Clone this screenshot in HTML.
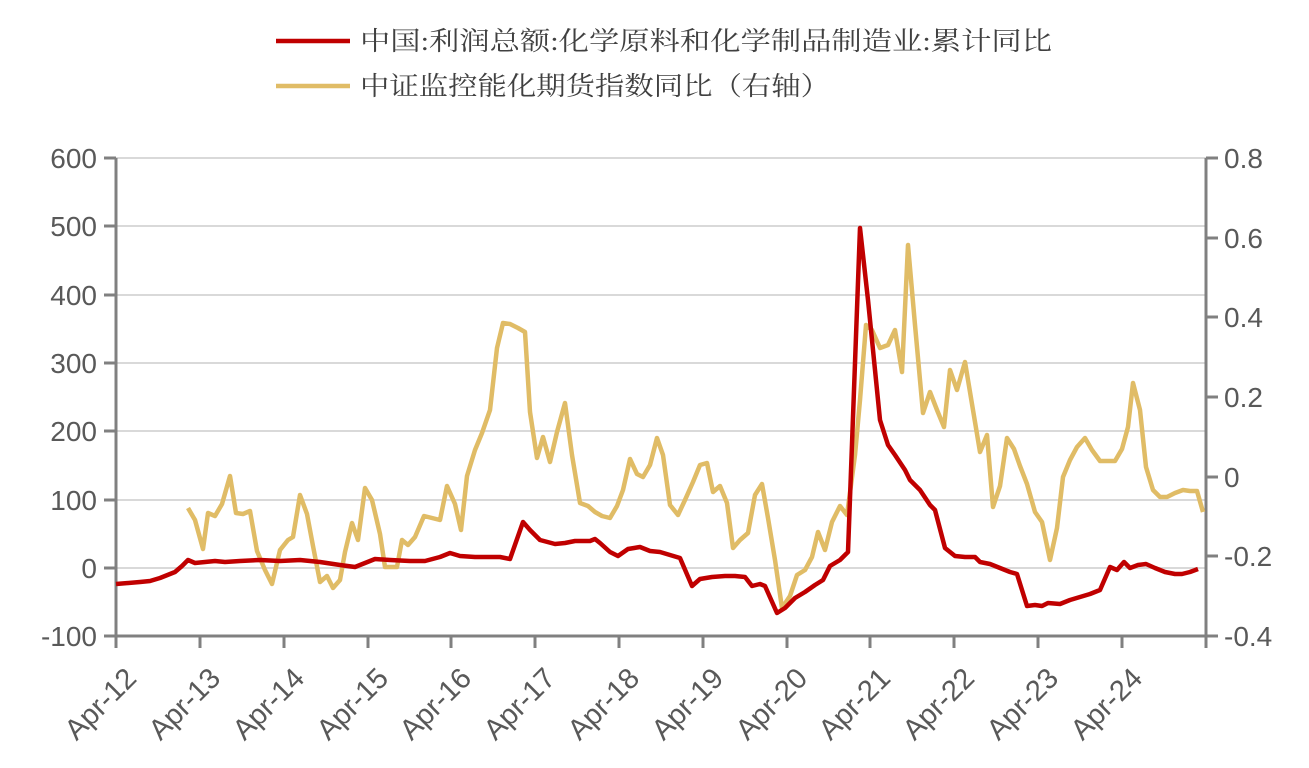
<!DOCTYPE html>
<html><head><meta charset="utf-8"><style>
body{margin:0;background:#fff;}
svg text{font-family:"Liberation Sans","Noto Sans CJK SC",sans-serif;fill:#595959;}
svg text.lg{font-family:"Liberation Serif","Noto Serif CJK SC",serif;fill:#404040;}
</style></head><body>
<svg width="1309" height="763" viewBox="0 0 1309 763" xmlns="http://www.w3.org/2000/svg">
<line x1="276" y1="41" x2="350" y2="41" stroke="#c00000" stroke-width="4.5"/>
<text class="lg" x="360" y="50" font-size="26" textLength="692" lengthAdjust="spacingAndGlyphs">中国:利润总额:化学原料和化学制品制造业:累计同比</text>
<line x1="276" y1="86" x2="350" y2="86" stroke="#e0bc66" stroke-width="4.5"/>
<text class="lg" x="360" y="95" font-size="26" textLength="470" lengthAdjust="spacingAndGlyphs">中证监控能化期货指数同比（右轴）</text>
<g stroke="#d9d9d9" stroke-width="2">
<line x1="116" y1="158" x2="1206" y2="158"/><line x1="116" y1="226" x2="1206" y2="226"/>
<line x1="116" y1="295" x2="1206" y2="295"/><line x1="116" y1="363" x2="1206" y2="363"/>
<line x1="116" y1="431" x2="1206" y2="431"/><line x1="116" y1="500" x2="1206" y2="500"/>
<line x1="116" y1="568" x2="1206" y2="568"/>
</g>
<g stroke="#808080" stroke-width="3" fill="none">
<line x1="116" y1="158" x2="116" y2="648"/><line x1="1206" y1="158" x2="1206" y2="648"/>
<line x1="116" y1="636" x2="1206" y2="636"/>
<path d="M104 158h12M104 226h12M104 295h12M104 363h12M104 431h12M104 500h12M104 568h12M104 636h12"/>
<path d="M1206 158h12M1206 238h12M1206 317h12M1206 397h12M1206 477h12M1206 556h12M1206 636h12"/>
<path d="M200 636v12M284 636v12M368 636v12M451 636v12M535 636v12M619 636v12M703 636v12M787 636v12M870 636v12M954 636v12M1038 636v12M1122 636v12"/>
</g>
<g font-size="28" text-anchor="end">
<text x="97" y="168">600</text><text x="97" y="236">500</text><text x="97" y="305">400</text>
<text x="97" y="373">300</text><text x="97" y="441">200</text><text x="97" y="510">100</text>
<text x="97" y="578">0</text><text x="97" y="646">-100</text>
</g>
<g font-size="28">
<text x="1224" y="168">0.8</text><text x="1224" y="248">0.6</text><text x="1224" y="327">0.4</text>
<text x="1224" y="407">0.2</text><text x="1224" y="487">0</text><text x="1224" y="566">-0.2</text><text x="1224" y="646">-0.4</text>
</g>
<g font-size="29" text-anchor="end">
<text transform="translate(138,680) rotate(-45)">Apr-12</text>
<text transform="translate(222,680) rotate(-45)">Apr-13</text>
<text transform="translate(306,680) rotate(-45)">Apr-14</text>
<text transform="translate(390,680) rotate(-45)">Apr-15</text>
<text transform="translate(473,680) rotate(-45)">Apr-16</text>
<text transform="translate(557,680) rotate(-45)">Apr-17</text>
<text transform="translate(641,680) rotate(-45)">Apr-18</text>
<text transform="translate(725,680) rotate(-45)">Apr-19</text>
<text transform="translate(809,680) rotate(-45)">Apr-20</text>
<text transform="translate(892,680) rotate(-45)">Apr-21</text>
<text transform="translate(976,680) rotate(-45)">Apr-22</text>
<text transform="translate(1060,680) rotate(-45)">Apr-23</text>
<text transform="translate(1144,680) rotate(-45)">Apr-24</text>
</g>
<polyline fill="none" stroke="#e0bc66" stroke-width="4.5" stroke-linejoin="round" points="188,508 195,520 203,549 208,513 215,516 222,504 230,476 236,513 243,514 250,511 257,551 265,570 272,584 280,550 288,540 293,537 300,495 307,514 313,546 320,582 327,576 333,588 340,580 345,552 352,523 358,540 365,488 372,500 380,534 385,567 397,567 402,540 408,545 415,537 424,516 432,518 440,520 447,486 455,504 461,530 467,476 475,450 482,433 490,410 497,348 503,323 510,324 518,328 525,332 530,412 537,458 543,437 550,462 557,432 565,403 572,455 580,503 588,506 595,512 602,516 610,518 617,506 623,490 630,459 637,474 643,477 650,465 657,438 663,455 670,505 678,515 685,500 693,482 700,465 707,463 713,492 720,486 727,503 733,548 740,540 748,533 755,495 762,484 768,518 775,560 782,608 790,596 797,575 805,570 812,557 818,532 825,550 832,522 840,506 847,515 855,455 860,400 866,325 872,330 880,348 888,345 895,330 902,372 908,245 915,325 923,413 930,392 937,410 944,427 950,370 957,390 965,362 973,410 980,452 987,435 993,507 1000,486 1007,438 1014,449 1020,466 1027,484 1035,512 1042,522 1050,560 1057,528 1063,477 1070,460 1077,447 1085,438 1092,450 1100,461 1108,461 1115,461 1122,449 1128,427 1133,383 1140,410 1146,467 1153,490 1160,497 1167,497 1175,493 1183,490 1190,491 1197,491 1203,512"/>
<polyline fill="none" stroke="#c00000" stroke-width="4.5" stroke-linejoin="round" points="116,584 140,582 150,581 160,578 175,572 182,566 188,560 195,563 205,562 215,561 225,562 240,561 260,560 280,561 300,560 320,562 340,565 355,567 365,563 375,559 390,560 410,561 425,561 440,557 450,553 460,556 475,557 490,557 500,557 510,559 523,522 530,530 540,540 555,544 565,543 575,541 590,541 595,539 600,543 610,552 618,556 628,549 640,547 650,551 660,552 670,555 680,558 692,586 700,579 712,577 725,576 735,576 745,577 752,586 760,584 765,586 777,613 785,608 795,598 805,592 815,585 823,580 830,566 840,560 848,552 860,228 868,300 875,370 880,420 888,445 895,455 905,470 910,480 920,490 930,505 935,510 945,548 955,556 965,557 975,557 980,562 990,564 1000,568 1010,572 1017,574 1027,606 1035,605 1042,606 1048,603 1060,604 1070,600 1080,597 1090,594 1100,590 1110,567 1117,570 1124,562 1130,568 1138,565 1146,564 1155,568 1165,572 1175,574 1182,574 1190,572 1198,569"/>
</svg>
</body></html>
